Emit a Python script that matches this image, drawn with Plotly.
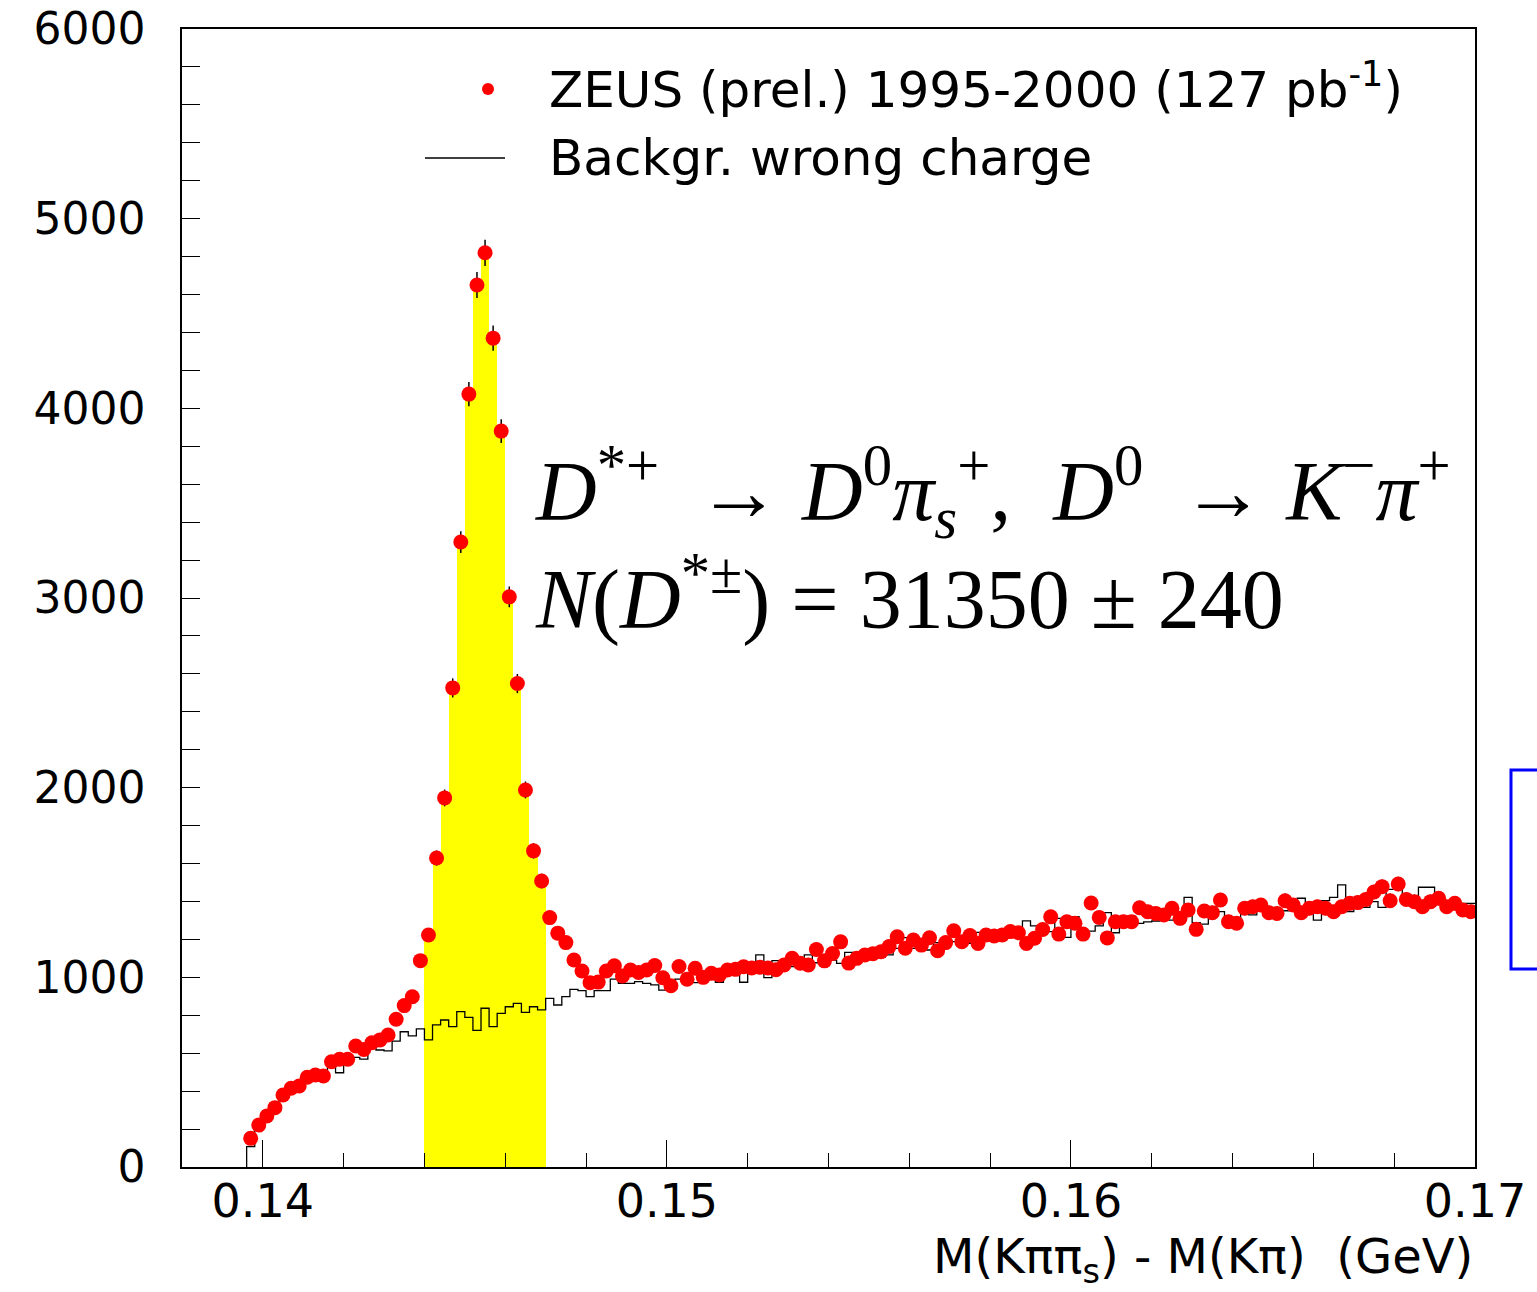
import numpy as np
import plotly.graph_objects as go

# Binning: 0.2 MeV bins starting at 0.1396 GeV
bin_width = 0.0002
first_edge = 0.1396

# Right-charge D* candidates per bin
data_counts = [
    151, 221, 269, 313, 380, 415, 427, 473, 485, 480, 555, 568, 568, 638, 620, 655, 670, 696, 779, 851, 898, 1088,
    1223, 1629, 1946, 2526, 3295, 4075, 4650, 4820, 4370, 3880, 3006, 2549, 1988, 1667, 1508,
    1315, 1233, 1183, 1091, 1033, 972, 975, 1033, 1061, 1007, 1039, 1026, 1039, 1062, 998, 956, 1057, 990, 1048, 1000,
    1021, 1012, 1039, 1042, 1056, 1049, 1053, 1049, 1040, 1065, 1100, 1074, 1065, 1147, 1087, 1126, 1187, 1075, 1100, 1118, 1125,
    1135, 1162, 1214, 1153, 1197, 1170, 1209, 1140, 1183, 1246, 1188, 1220, 1179, 1223, 1218, 1223, 1241, 1235, 1179, 1206, 1252,
    1319, 1228, 1293, 1285, 1228, 1392, 1316, 1208, 1293, 1293, 1293, 1367, 1346, 1337, 1329, 1364, 1311, 1355, 1253, 1350,
    1341, 1408, 1293, 1285, 1364, 1372, 1381, 1341, 1337, 1404,
    1381, 1341, 1364, 1372, 1364, 1346, 1372, 1390, 1394, 1411, 1450, 1478, 1404, 1492, 1411, 1399, 1372, 1399, 1417, 1372,
    1390, 1355, 1346,
]

# Wrong-charge background per bin
background_counts = [
    107, 234, 297, 313, 406, 410, 432, 455, 485, 485, 543, 497, 578, 578, 569, 626, 617, 612, 664, 713, 691, 728,
    670, 749, 775, 740, 819, 789, 720, 837, 740, 810, 845, 863, 815, 845, 828, 889, 854,
    898, 937, 930, 898, 930, 930, 991, 968, 968, 977, 968, 960, 933, 981, 991, 1018, 972, 1035, 1015,
    974, 1062, 1048, 974, 1033, 1118, 998, 1088, 1042, 1056, 1056, 1118, 1077, 1104, 1091, 1074, 1132, 1132, 1095, 1106,
    1106, 1118, 1153, 1209, 1153, 1191, 1144, 1183, 1188, 1188, 1211, 1179, 1237, 1223, 1193, 1237, 1258, 1250, 1298,
    1271, 1271, 1241,
    1311, 1211, 1320, 1244, 1244, 1271, 1341, 1235, 1297, 1323, 1285, 1292, 1297, 1334, 1302, 1334, 1422, 1288, 1281,
    1372, 1346, 1316, 1276, 1367, 1329, 1385, 1329, 1316, 1351,
    1380, 1417, 1372, 1302, 1404, 1422, 1487, 1346, 1378, 1369, 1399, 1369, 1464, 1464, 1422, 1422, 1475, 1475, 1443,
    1394, 1359, 1390, 1390,
]

# Signal window shaded under the data
signal_lo, signal_hi = 0.144, 0.147

x_range = [0.138, 0.17]
y_range = [0, 6000]
x_tick_labels = ["0.14", "0.15", "0.16", "0.17"]
y_tick_labels = ["0", "1000", "2000", "3000", "4000", "5000", "6000"]

legend_data = "ZEUS (prel.) 1995-2000 (127 pb<sup>-1</sup>)"
legend_bkg = "Backgr. wrong charge"
arrow = "\u2009 → "
decay_text = ("<i>D</i><sup>*+</sup>" + arrow + "<i>D</i><sup>0</sup><i>π</i><sub><i>s</i></sub><sup>+</sup>,"
              "  <i>D</i><sup>0</sup>" + arrow + "<i>K</i><sup>−</sup><i>π</i><sup>+</sup>")
yield_text = "<i>N</i>(<i>D</i><sup>*±</sup>) = 31350 ± 240"
x_title = "M(Kππ<sub>s</sub>) - M(Kπ)\u00a0\u00a0(GeV)"

data = np.array(data_counts, dtype=float)
bkg = np.array(background_counts, dtype=float)
n_bins = len(data)
edges = first_edge + bin_width * np.arange(n_bins + 1)
centers = 0.5 * (edges[:-1] + edges[1:])
errors = np.sqrt(data)

in_signal = (centers > signal_lo) & (centers < signal_hi)

fig = go.Figure()

# Yellow signal band (data histogram inside the window)
fig.add_trace(go.Bar(
    x=centers[in_signal], y=data[in_signal], width=bin_width,
    marker=dict(color="#ffff00", line=dict(width=0)),
    showlegend=False, hoverinfo="skip",
))

# Wrong-charge background as a step histogram
step_x = np.concatenate([[edges[0]], edges])
step_y = np.concatenate([[0.0], bkg, [bkg[-1]]])
fig.add_trace(go.Scatter(
    x=step_x, y=step_y, mode="lines", line=dict(color="black", width=1.3, shape="hv"),
    showlegend=False, hoverinfo="skip",
))

# Data points with statistical errors
fig.add_trace(go.Scatter(
    x=centers, y=data, mode="markers",
    marker=dict(color="#ff0000", size=15, line=dict(width=0)),
    error_y=dict(type="data", array=errors, color="black", thickness=1.5, width=0),
    showlegend=False,
))

L, R, T, B = 182, 62, 29, 125
W, H = 1537, 1292
pw, ph = W - L - R, H - T - B


def px_x(p):
    return (p - L) / pw


def px_y(p):
    return (H - B - p) / ph


font_sans = "DejaVu Sans"
font_serif = "Liberation Serif"

y_ticks = list(range(0, 6001, 200))
y_text = [str(v) if v % 1000 == 0 else "" for v in y_ticks]

fig.update_layout(
    width=W, height=H,
    margin=dict(l=L, r=R, t=T, b=B, autoexpand=False),
    paper_bgcolor="white", plot_bgcolor="white",
    bargap=0,
    xaxis=dict(
        range=x_range, showgrid=False, zeroline=False, automargin=False,
        showline=True, mirror=True, linecolor="black", linewidth=1.5,
        tickvals=[0.14, 0.15, 0.16, 0.17], ticktext=x_tick_labels,
        ticks="inside", ticklen=27, tickwidth=1, tickcolor="black",
        minor=dict(dtick=0.002, tick0=0.138, ticks="inside", ticklen=14, tickwidth=1, tickcolor="black"),
        tickfont=dict(family=font_sans, size=46, color="black"),
        ticklabelstandoff=-7,
    ),
    yaxis=dict(
        range=y_range, showgrid=False, zeroline=False, automargin=False,
        showline=True, mirror=True, linecolor="black", linewidth=1.5,
        tickvals=y_ticks, ticktext=y_text,
        ticks="inside", ticklen=18, tickwidth=1, tickcolor="black",
        tickfont=dict(family=font_sans, size=44, color="black"),
        ticklabelstandoff=26,
    ),
    shapes=[
        # legend symbols
        dict(type="circle", xref="paper", yref="paper", xsizemode="pixel", ysizemode="pixel",
             xanchor=px_x(488), yanchor=px_y(89), x0=-6, x1=6, y0=-6, y1=6,
             fillcolor="#ff0000", line=dict(width=0)),
        dict(type="line", xref="paper", yref="paper", x0=px_x(425), x1=px_x(505),
             y0=px_y(158), y1=px_y(158), line=dict(color="black", width=1.3)),
        # box at the right page edge
        dict(type="rect", xref="paper", yref="paper", x0=px_x(1511), x1=px_x(1570),
             y0=px_y(969), y1=px_y(770), line=dict(color="#0000ff", width=3)),
    ],
    annotations=[
        dict(text=legend_data, xref="paper", yref="paper", x=px_x(547), y=px_y(86),
             xanchor="left", yanchor="middle", showarrow=False,
             font=dict(family=font_sans, size=50, color="black")),
        dict(text=legend_bkg, xref="paper", yref="paper", x=px_x(547), y=px_y(158),
             xanchor="left", yanchor="middle", showarrow=False,
             font=dict(family=font_sans, size=50, color="black")),
        dict(text=decay_text, xref="paper", yref="paper", x=px_x(533), y=px_y(492),
             xanchor="left", yanchor="middle", showarrow=False,
             font=dict(family=font_serif, size=84, color="black")),
        dict(text=yield_text, xref="paper", yref="paper", x=px_x(533), y=px_y(594),
             xanchor="left", yanchor="middle", showarrow=False,
             font=dict(family=font_serif, size=84, color="black")),
        dict(text=x_title, xref="paper", yref="paper", x=1, y=px_y(1259),
             xanchor="right", yanchor="middle", showarrow=False,
             font=dict(family=font_sans, size=48, color="black")),
    ],
)

fig.write_html("out.html")
